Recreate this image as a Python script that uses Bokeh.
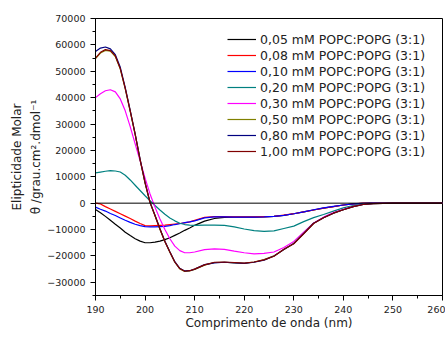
from bokeh.plotting import figure
from bokeh.models import FixedTicker, BasicTickFormatter, Span, Legend, LegendItem, Range1d, Title
from bokeh.embed import file_html
from bokeh.resources import INLINE

# Wavelength (nm)
wavelength = [190, 191, 192, 193, 194, 195, 196, 197, 198, 199, 200, 201, 202, 203, 204,
              205, 206, 207, 208, 209, 210,
              212, 214, 216, 218, 220, 222, 224, 226, 228, 230, 232, 234, 236, 238, 240,
              242, 244, 246, 248, 250, 255, 260]

# Molar ellipticity for each lipid concentration
c005 = [-2400, -3600, -5000, -6500, -8000, -9400, -11000, -12300, -13500, -14400, -15000,
        -15000, -14800, -14400, -13800, -13100, -12200, -11300, -10300, -9400, -8400,
        -6800, -5800, -5400, -5300, -5300, -5300, -5200, -5000, -4600, -4000, -3300, -2600,
        -1900, -1300, -700, -300, -100, 0, 0, 0, 0, 0]
c008 = [0, -300, -1300, -2200, -3100, -4000, -4900, -5800, -6800, -7700, -8500,
        -8600, -8500, -8400, -8300, -8100, -7900, -7700, -7500, -7100, -6500,
        -5400, -5100, -5100, -5200, -5200, -5200, -5100, -5000, -4500, -4000, -3300, -2600,
        -1900, -1300, -700, -300, 0, 0, 0, 0, 0, 0]
c010 = [-1500, -2300, -3000, -3900, -4700, -5600, -6500, -7300, -8000, -8500, -8900,
        -9000, -9000, -8900, -8800, -8500, -8100, -7800, -7400, -7100, -6700,
        -5600, -5200, -5200, -5300, -5300, -5300, -5200, -5000, -4600, -4000, -3300, -2500,
        -1800, -1200, -700, -300, -100, 0, 0, 0, 0, 0]
c020 = [11500, 11800, 12100, 12300, 12200, 11800, 10600, 8800, 6800, 4800, 2800,
        900, -900, -2600, -4200, -5600, -6700, -7600, -8100, -8300, -8400,
        -8300, -8300, -8400, -9000, -9800, -10400, -10700, -10500, -9600, -8700, -7000,
        -5500, -4300, -3000, -1800, -900, -300, -100, 0, 0, 0, 0]
c030 = [40000, 41500, 42600, 43000, 42200, 39500, 35000, 29000, 22500, 16000, 9500,
        3500, -1500, -6000, -10000, -13500, -16300, -18000, -18800, -18800, -18500,
        -17600, -17300, -17500, -18200, -18800, -19200, -19000, -18500, -16800, -14500,
        -11000, -7500, -5300, -3600, -2300, -1200, -400, -100, 0, 0, 0, 0]
c050 = [54800, 56900, 57900, 57600, 55600, 50800, 43300, 34800, 26000, 16300, 7600,
        200, -4800, -9900, -14600, -18600, -22400, -24900, -25900, -25700, -25100,
        -23500, -22500, -22400, -22600, -22800, -22300, -21400, -20000, -17600, -15300,
        -11500, -7600, -5500, -3800, -2500, -1300, -500, -200, -100, 0, 0, 0]
c080 = [57500, 58800, 59200, 58500, 56300, 51500, 43800, 35200, 26300, 16600, 7800,
        300, -4600, -9700, -14400, -18400, -22200, -24700, -25700, -25600, -25000,
        -23300, -22600, -22400, -22600, -22800, -22400, -21600, -20000, -17600, -15300,
        -11500, -7600, -5500, -3800, -2500, -1300, -500, -200, -100, 0, 0, 0]
c100 = [55000, 57200, 58200, 57800, 55800, 51000, 43500, 35000, 26200, 16500, 7700,
        300, -4700, -9800, -14500, -18500, -22300, -24800, -25800, -25600, -25000,
        -23400, -22400, -22300, -22500, -22700, -22300, -21500, -20100, -17500, -15400,
        -11600, -7700, -5500, -3800, -2500, -1300, -500, -200, -100, 0, 0, 0]

labels = ["0,05 mM POPC:POPG (3:1)", "0,08 mM POPC:POPG (3:1)", "0,10 mM POPC:POPG (3:1)",
          "0,20 mM POPC:POPG (3:1)", "0,30 mM POPC:POPG (3:1)", "0,50 mM POPC:POPG (3:1)",
          "0,80 mM POPC:POPG (3:1)", "1,00 mM POPC:POPG (3:1)"]
series = [c005, c008, c010, c020, c030, c050, c080, c100]
colors = ["#000000", "#FF0000", "#0000FF", "#008080", "#FF00FF", "#808000", "#000080", "#800000"]

x_major = [190, 200, 210, 220, 230, 240, 250, 260]
y_major = [-30000, -20000, -10000, 0, 10000, 20000, 30000, 40000, 50000, 60000, 70000]

y_title_lines = ["Elipticidade Molar", "θ /grau.cm².dmol⁻¹"]
x_title = "Comprimento de onda (nm)"

FONT = "DejaVu Sans"

p = figure(width=445, height=338, output_backend="svg", toolbar_location=None,
           x_range=Range1d(190, 260), y_range=Range1d(-35000, 70000),
           min_border_left=95, min_border_right=3, min_border_top=18, min_border_bottom=43)
p.grid.visible = False
p.outline_line_color = "#000000"
p.outline_line_width = 1
p.background_fill_color = "white"
p.border_fill_color = "white"

p.add_layout(Span(location=0, dimension="width", line_color="#000000", line_width=1))

items = []
for lab, ys, col in zip(labels, series, colors):
    r = p.line(wavelength, ys, line_color=col, line_width=1.2)
    items.append(LegendItem(label=lab, renderers=[r]))

legend = Legend(items=items, location=(132, 136), border_line_color=None,
                background_fill_alpha=0, padding=6, margin=0, spacing=0,
                glyph_width=29, glyph_height=16, label_height=16, label_standoff=4,
                label_text_font=FONT, label_text_font_size="12.5px", label_text_color="#222222")
p.add_layout(legend)

p.xaxis.ticker = FixedTicker(ticks=x_major, minor_ticks=list(range(190, 261, 5)))
p.yaxis.ticker = FixedTicker(ticks=y_major, minor_ticks=list(range(-35000, 70001, 5000)))
p.yaxis.formatter = BasicTickFormatter(use_scientific=False)

for ax in (p.xaxis, p.yaxis):
    ax.axis_line_color = "#000000"
    ax.major_tick_line_color = "#000000"
    ax.minor_tick_line_color = "#000000"
    ax.major_tick_out = 5
    ax.major_tick_in = 0
    ax.minor_tick_out = 3
    ax.minor_tick_in = 0
    ax.major_label_text_font = FONT
    ax.major_label_text_font_size = "9.5px"
    ax.major_label_text_color = "#222222"
    ax.axis_label_text_font = FONT
    ax.axis_label_text_font_size = "12px"
    ax.axis_label_text_font_style = "normal"
    ax.axis_label_text_color = "#222222"

p.xaxis.axis_label = x_title
p.xaxis.major_label_standoff = 5
p.xaxis.axis_label_standoff = 0
p.yaxis.major_label_standoff = 5

# two-line y title: inner line first (closest to the axis), then the outer line
for txt, so in ((y_title_lines[1], 4), (y_title_lines[0], 2)):
    p.add_layout(Title(text=txt, align="center", offset=-16, standoff=so,
                       text_font=FONT, text_font_size="12px", text_font_style="normal",
                       text_color="#222222"), "left")

open("out.html", "w").write(file_html(p, INLINE))
